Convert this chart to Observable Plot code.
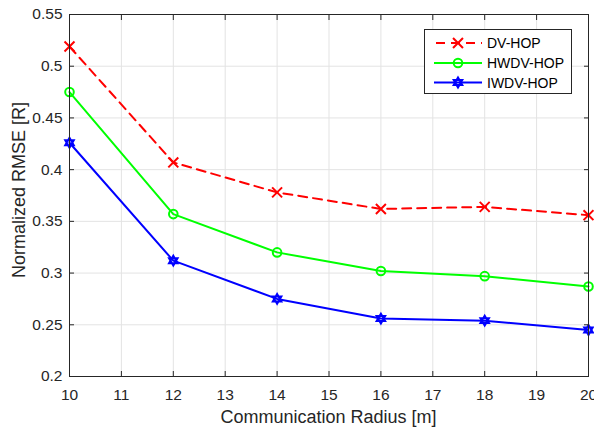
<!DOCTYPE html>
<html><head><meta charset="utf-8">
<script src="https://cdn.jsdelivr.net/npm/d3@7"></script>
<script src="https://cdn.jsdelivr.net/npm/@observablehq/plot@0.6"></script>
<style>body{margin:0;background:#fff}</style>
</head><body><div id="chart"></div>
<script>
const radius = [10, 12, 14, 16, 18, 20];
const dvHop = [0.519, 0.407, 0.378, 0.362, 0.364, 0.356];
const hwdvHop = [0.475, 0.357, 0.320, 0.302, 0.297, 0.287];
const iwdvHop = [0.426, 0.312, 0.275, 0.256, 0.254, 0.245];
const seriesNames = ["DV-HOP", "HWDV-HOP", "IWDV-HOP"];
const seriesColors = ["#ff0000", "#00ff00", "#0000ff"];
const xTicks = [10, 11, 12, 13, 14, 15, 16, 17, 18, 19, 20];
const yTicks = [0.2, 0.25, 0.3, 0.35, 0.4, 0.45, 0.5, 0.55];
const xLabel = "Communication Radius [m]";
const yLabel = "Normalized RMSE [R]";

const hexagram = {
  draw(ctx, size) {
    const R = Math.sqrt(size / Math.PI) * 1.15;
    for (const off of [-Math.PI / 2, Math.PI / 2]) {
      for (let k = 0; k < 3; k++) {
        const a = off + k * 2 * Math.PI / 3;
        const px = R * Math.cos(a), py = R * Math.sin(a);
        if (k === 0) ctx.moveTo(px, py); else ctx.lineTo(px, py);
      }
      ctx.closePath();
    }
  }
};
const symbols = ["times", "circle", hexagram];
const allSeries = [dvHop, hwdvHop, iwdvHop];
const data = allSeries.flatMap((vals, s) => radius.map((r, i) => ({x: r, y: vals[i], s})));
const ink = "#262626";
const fmt = d => String(+d.toFixed(2));

const lineMarks = allSeries.map((vals, s) =>
  Plot.line(data.filter(d => d.s === s), {x: "x", y: "y", stroke: seriesColors[s], strokeWidth: 2,
    strokeDasharray: s === 0 ? "9,6" : null})
);
const dotMarks = allSeries.map((vals, s) =>
  Plot.dot(data.filter(d => d.s === s), {x: "x", y: "y", stroke: seriesColors[s], strokeWidth: 2,
    symbol: symbols[s], r: s === 0 ? 4.6 : 4.3, fill: "none"})
);

const chart = Plot.plot({
  width: 594, height: 430,
  marginLeft: 69, marginRight: 6, marginTop: 14, marginBottom: 54,
  x: {domain: [10, 20]},
  y: {domain: [0.2, 0.55]},
  style: {fontFamily: "'Liberation Sans', Arial, sans-serif", fontSize: "15.5px", color: ink, background: "white", overflow: "visible"},
  marks: [
    Plot.gridX(xTicks, {stroke: "#e3e3e3", strokeOpacity: 1}),
    Plot.gridY(yTicks, {stroke: "#e3e3e3", strokeOpacity: 1}),
    ...lineMarks,
    ...dotMarks,
    Plot.frame({stroke: ink}),
    Plot.axisX(xTicks, {anchor: "bottom", tickSize: 0, tickPadding: 12, tickFormat: d => d, fill: ink, fontSize: 15.5, label: null}),
    Plot.axisX(xTicks, {anchor: "bottom", tickSize: -5, tickFormat: () => "", stroke: ink, label: null}),
    Plot.axisX(xTicks, {anchor: "top", tickSize: -5, tickFormat: () => "", stroke: ink, label: null}),
    Plot.axisY(yTicks, {anchor: "left", tickSize: 0, tickPadding: 7, tickFormat: fmt, fill: ink, fontSize: 15.5, label: null}),
    Plot.axisY(yTicks, {anchor: "left", tickSize: -5, tickFormat: () => "", stroke: ink, label: null}),
    Plot.axisY(yTicks, {anchor: "right", tickSize: -5, tickFormat: () => "", stroke: ink, label: null})
  ]
});
document.getElementById("chart").appendChild(chart);

const svg = d3.select(chart);
svg.append("text").attr("x", 328.5).attr("y", 423).attr("text-anchor", "middle")
  .attr("fill", ink).attr("font-size", 18).text(xLabel);
svg.append("text").attr("transform", "translate(24.5,190) rotate(-90)").attr("text-anchor", "middle")
  .attr("fill", ink).attr("font-size", 18).text(yLabel);

const lg = svg.append("g");
lg.append("rect").attr("x", 424.5).attr("y", 29.5).attr("width", 147).attr("height", 64)
  .attr("fill", "white").attr("stroke", ink).attr("stroke-width", 1);
const rowY = [43, 63, 82.5];
seriesNames.forEach((name, s) => {
  lg.append("line").attr("x1", 434).attr("x2", 482).attr("y1", rowY[s]).attr("y2", rowY[s])
    .attr("stroke", seriesColors[s]).attr("stroke-width", 2)
    .attr("stroke-dasharray", s === 0 ? "9,6" : null).attr("stroke-dashoffset", s === 0 ? -2 : null);
  const sym = s === 0 ? d3.symbolTimes : s === 1 ? d3.symbolCircle : hexagram;
  const r = s === 0 ? 4.6 : 4.3;
  lg.append("path").attr("transform", `translate(458,${rowY[s]})`)
    .attr("d", d3.symbol(sym, r * r * Math.PI)()).attr("fill", "none")
    .attr("stroke", seriesColors[s]).attr("stroke-width", 2);
  lg.append("text").attr("x", 487).attr("y", rowY[s] + 5).attr("text-anchor", "start")
    .attr("fill", "#000").attr("font-size", 14).text(name);
});
</script></body></html>
